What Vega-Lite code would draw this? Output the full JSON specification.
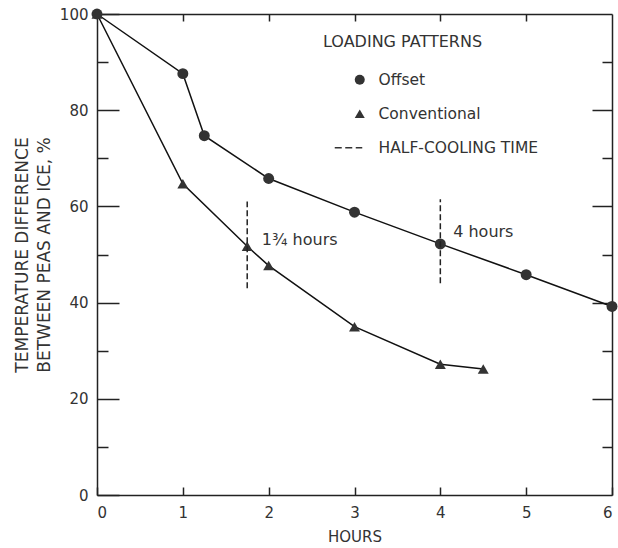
{
  "$schema": "https://vega.github.io/schema/vega-lite/v6.json",
  "width": 515,
  "height": 481,
  "autosize": {"type": "none"},
  "padding": {"left": 97, "top": 14, "right": 6, "bottom": 53},
  "background": "white",
  "config": {
    "view": {"stroke": null},
    "font": "DejaVu Sans",
    "axis": {"domainColor": "#222", "tickColor": "#222", "labelColor": "#333", "titleColor": "#333", "labelFontSize": 15, "titleFontSize": 15, "titleFontWeight": "normal", "grid": false, "domainWidth": 1.5, "tickWidth": 1.5}
  },
  "datasets": {
    "curves": [
      {"series": "Offset", "hours": 0, "pct": 100},
      {"series": "Offset", "hours": 1, "pct": 87.6},
      {"series": "Offset", "hours": 1.25, "pct": 74.7},
      {"series": "Offset", "hours": 2, "pct": 65.8},
      {"series": "Offset", "hours": 3, "pct": 58.8},
      {"series": "Offset", "hours": 4, "pct": 52.2},
      {"series": "Offset", "hours": 5, "pct": 45.8},
      {"series": "Offset", "hours": 6, "pct": 39.2},
      {"series": "Conventional", "hours": 0, "pct": 100},
      {"series": "Conventional", "hours": 1, "pct": 64.7},
      {"series": "Conventional", "hours": 1.75, "pct": 51.7},
      {"series": "Conventional", "hours": 2, "pct": 47.7},
      {"series": "Conventional", "hours": 3, "pct": 35},
      {"series": "Conventional", "hours": 4, "pct": 27.2},
      {"series": "Conventional", "hours": 4.5, "pct": 26.2}
    ],
    "halfcool": [
      {"hours": 1.75, "low": 43, "high": 61, "label": "1¾ hours", "lx": 1.92, "ly": 53},
      {"hours": 4, "low": 44, "high": 61.5, "label": "4 hours", "lx": 4.15, "ly": 54.7}
    ]
  },
  "resolve": {"axis": {"x": "independent", "y": "independent"}},
  "layer": [
    {
      "data": {"name": "curves"},
      "mark": {"type": "line", "color": "#111", "strokeWidth": 1.5},
      "encoding": {
        "x": {"field": "hours", "type": "quantitative", "scale": {"domain": [0, 6], "nice": false},
          "axis": {"orient": "bottom", "values": [0, 1, 2, 3, 4, 5, 6], "tickSize": -8, "labelPadding": 18, "title": "HOURS", "titlePadding": 9}},
        "y": {"field": "pct", "type": "quantitative", "scale": {"domain": [0, 100], "nice": false},
          "axis": {"orient": "left", "values": [0, 20, 40, 60, 80, 100], "tickSize": -22, "labelPadding": 31, "title": ["TEMPERATURE DIFFERENCE", "BETWEEN PEAS AND ICE, %"], "titleFontSize": 17, "titlePadding": 6, "titleLineHeight": 22}},
        "detail": {"field": "series"}
      }
    },
    {
      "data": {"name": "curves"},
      "mark": {"type": "point", "filled": true, "color": "#333", "opacity": 1, "size": 120},
      "encoding": {
        "x": {"field": "hours", "type": "quantitative",
          "axis": {"orient": "top", "values": [1, 2, 3, 4, 5], "tickSize": -7, "labels": false, "title": null}},
        "y": {"field": "pct", "type": "quantitative",
          "axis": {"orient": "left", "values": [10, 30, 50, 70, 90], "tickSize": -11, "labels": false, "domain": false, "title": null}},
        "shape": {"field": "series", "type": "nominal",
          "scale": {"domain": ["Offset", "Conventional", "HALF-COOLING TIME"], "range": ["circle", "triangle-up", "M-5,-0.17H-3.6V0.17H-5Z M-2.9,-0.17H-1.5V0.17H-2.9Z M-0.8,-0.17H0.5V0.17H-0.8Z"]},
          "legend": {"title": "LOADING PATTERNS", "orient": "none", "legendX": 226, "legendY": 20, "padding": 0,
            "titleFontSize": 16, "titleFontWeight": "normal", "titleColor": "#333", "titlePadding": 22, "titleFont": "DejaVu Sans",
            "labelFontSize": 15.5, "labelColor": "#333", "labelOffset": 11, "symbolOffset": 29, "rowPadding": 17, "labelFont": "DejaVu Sans",
            "symbolFillColor": "#333"}}
      }
    },
    {
      "data": {"name": "halfcool"},
      "mark": {"type": "rule", "color": "#222", "strokeWidth": 1.5, "strokeDash": [6, 3]},
      "encoding": {
        "x": {"field": "hours", "type": "quantitative", "axis": null},
        "y": {"field": "low", "type": "quantitative",
          "axis": {"orient": "right", "values": [20, 40, 60, 80], "tickSize": -20, "labels": false, "title": null}},
        "y2": {"field": "high"}
      }
    },
    {
      "data": {"name": "halfcool"},
      "mark": {"type": "text", "align": "left", "baseline": "middle", "fontSize": 16, "color": "#333"},
      "encoding": {
        "x": {"field": "lx", "type": "quantitative", "axis": null},
        "y": {"field": "ly", "type": "quantitative",
          "axis": {"orient": "right", "values": [10, 30, 50, 70, 90], "tickSize": -10, "labels": false, "domain": false, "title": null}},
        "text": {"field": "label"}
      }
    }
  ]
}
